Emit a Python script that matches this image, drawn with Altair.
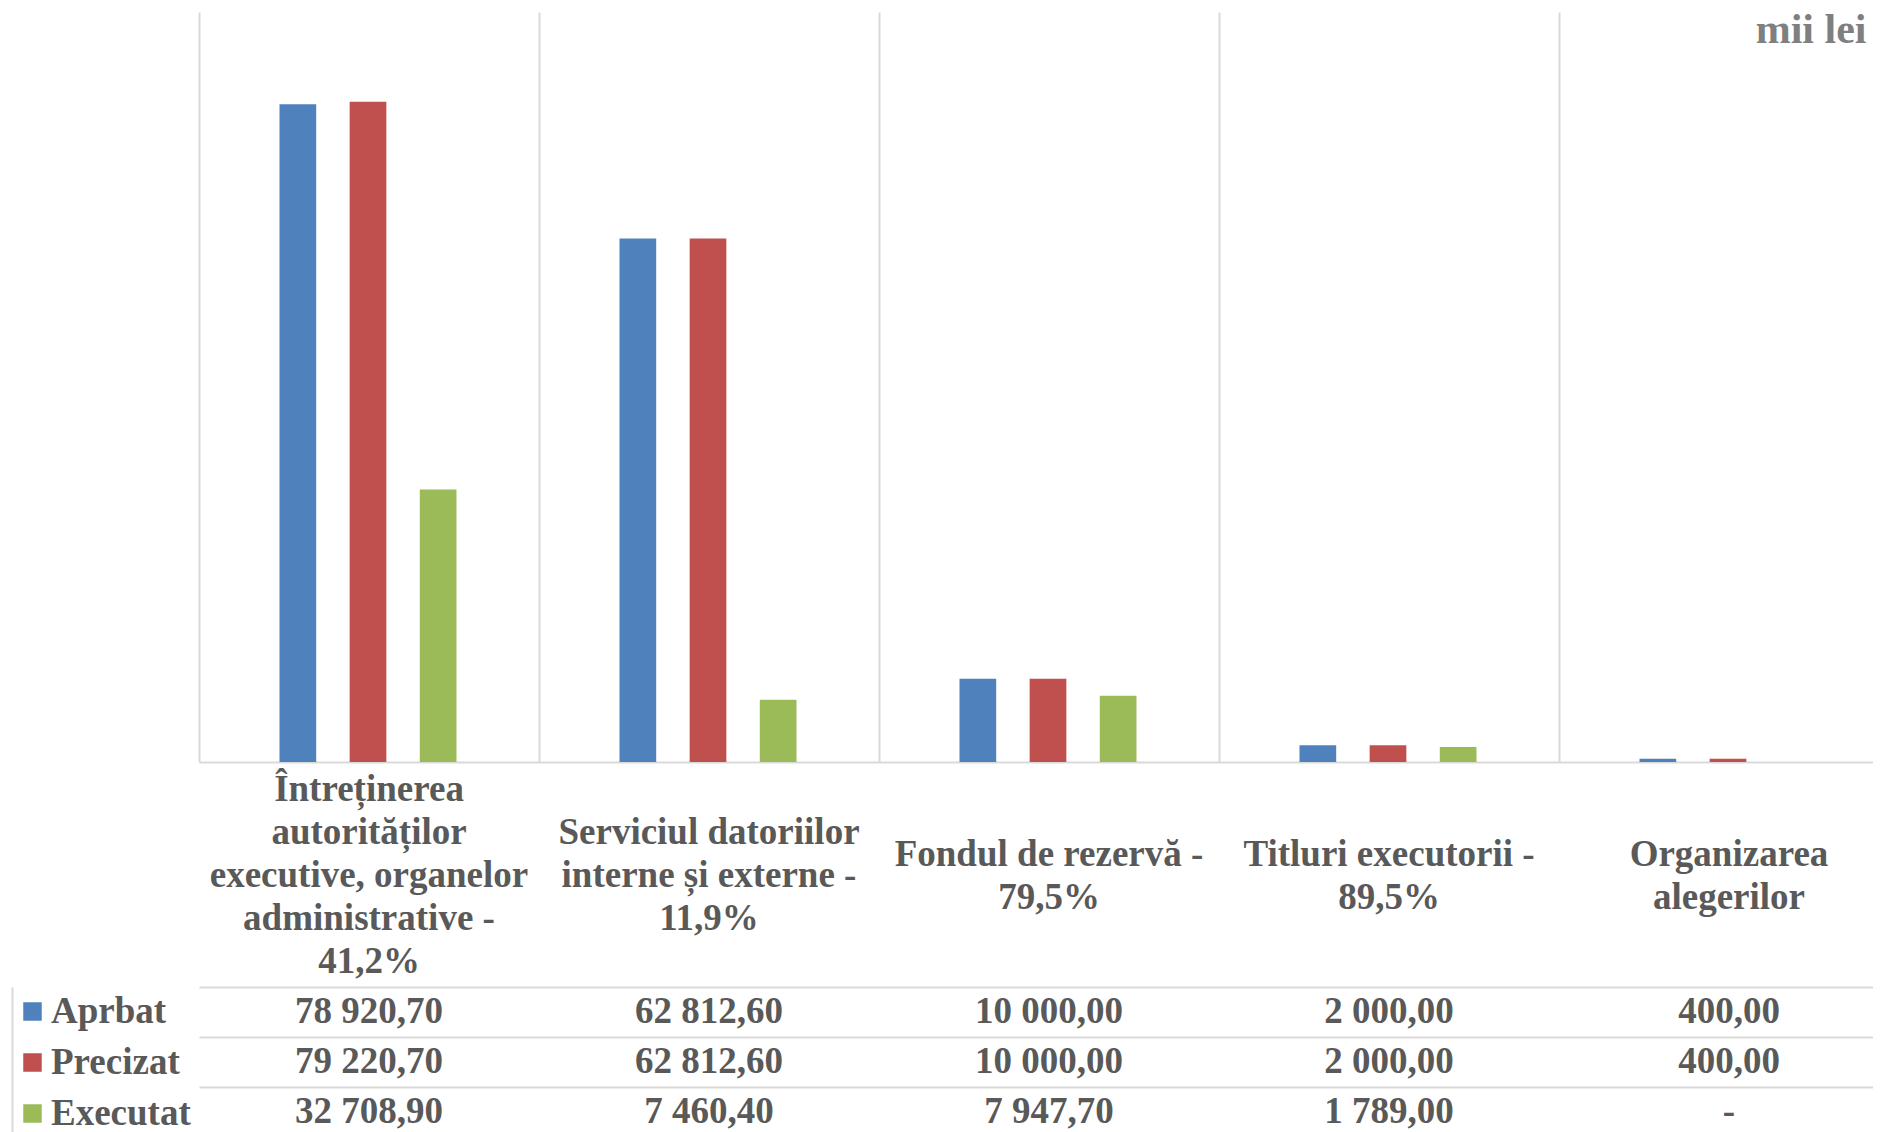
import altair as alt
import pandas as pd

# ---------------- data ----------------
categories = [
    "Întreținerea autorităților",
    "Serviciul datoriilor",
    "Fondul de rezervă",
    "Titluri executorii",
    "Organizarea alegerilor",
]
category_labels = [
    "Întreținerea\nautorităților\nexecutive, organelor\nadministrative -\n41,2%",
    "Serviciul datoriilor\ninterne și externe -\n11,9%",
    "Fondul de rezervă -\n79,5%",
    "Titluri executorii -\n89,5%",
    "Organizarea\nalegerilor",
]
series = ["Aprbat", "Precizat", "Executat"]
aprobat = [78920.70, 62812.60, 10000.00, 2000.00, 400.00]
precizat = [79220.70, 62812.60, 10000.00, 2000.00, 400.00]
executat = [32708.90, 7460.40, 7947.70, 1789.00, None]
colors = ["#4F81BD", "#C0504D", "#9BBB59"]
unit_label = "mii lei"


def fmt(v):
    if v is None:
        return "-"
    return f"{v:,.2f}".replace(",", " ").replace(".", ",")


rows = []
for s, vals in zip(series, [aprobat, precizat, executat]):
    for c, v in zip(categories, vals):
        rows.append({"cat": c, "series": s, "value": v, "label": fmt(v)})
df = pd.DataFrame(rows)

# one row per line of each category label, k = line position relative to the block centre
hdr_rows = []
for c, lab in zip(categories, category_labels):
    lines = lab.split("\n")
    n = len(lines)
    for i, line in enumerate(lines):
        hdr_rows.append({"cat": c, "text": line, "k": i - (n - 1) / 2})
hdr_df = pd.DataFrame(hdr_rows)

# ---------------- layout / style ----------------
FONT = "Liberation Serif"
TXT = "#595959"
GRID = "#D9D9D9"
PLOT_W, PLOT_H = 1861, 1124
COL_START, COL_W = 187, 340
X_RANGE = [COL_START, COL_START + COL_W * len(categories)]
BASE = 750
HDR_RANGE = [BASE + 1, 977]
LINE_H = 43
HALF_LINES = (HDR_RANGE[1] - HDR_RANGE[0]) / LINE_H / 2
ROW_RANGE = [975, 1125]

x_scale = alt.Scale(type="band", domain=categories, range=X_RANGE, paddingInner=0, paddingOuter=0)

grid_axis = alt.Axis(
    orient="top", labels=False, ticks=False, domain=False,
    grid=True, gridColor=GRID, gridWidth=2, bandPosition=0,
    title=unit_label, titleFont=FONT, titleFontSize=42, titleFontWeight="bold",
    titleColor="#7F7F7F", titleAlign="right", titleBaseline="alphabetic",
    titleX=1854, titleY=30, titleAngle=0,
)
base_axis = alt.Axis(
    orient="bottom", offset=BASE - PLOT_H, title=None, labels=False, ticks=False,
    domain=True, domainColor=GRID, domainWidth=2, grid=False,
)

bars = alt.Chart(df).mark_bar().encode(
    x=alt.X("cat:N", scale=x_scale, axis=grid_axis),
    xOffset=alt.XOffset("series:N", scale=alt.Scale(domain=series, range=[80.5, 257.5], paddingInner=0.4768, paddingOuter=0)),
    y=alt.Y("value:Q", scale=alt.Scale(domain=[0, 90000], range=[BASE, 0], nice=False), axis=None),
    color=alt.Color(
        "series:N",
        scale=alt.Scale(domain=series, range=colors),
        legend=alt.Legend(
            orient="none", legendX=2, legendY=981, title=None, direction="vertical",
            symbolType="square", symbolSize=342, symbolStrokeWidth=0, symbolOpacity=1,
            labelFont=FONT, labelFontSize=37, labelFontWeight="bold", labelColor=TXT,
            labelOffset=0, rowPadding=13, padding=0, labelLimit=400,
        ),
    ),
)

hdr = alt.Chart(hdr_df).mark_text(
    font=FONT, fontSize=37, fontWeight="bold", color=TXT, align="center", baseline="middle",
).encode(
    x=alt.X("cat:N", scale=x_scale, axis=base_axis),
    y=alt.Y("k:Q", scale=alt.Scale(domain=[-HALF_LINES, HALF_LINES], range=HDR_RANGE, nice=False, zero=False), axis=None),
    text="text:N",
)

table = alt.Chart(df).mark_text(
    font=FONT, fontSize=37, fontWeight="bold", color=TXT, align="center", baseline="middle",
).encode(
    x=alt.X("cat:N", scale=x_scale, axis=None),
    y=alt.Y(
        "series:N",
        scale=alt.Scale(type="band", domain=series, range=ROW_RANGE, paddingInner=0, paddingOuter=0),
        axis=alt.Axis(
            orient="left", title=None, labels=False, ticks=False,
            domain=True, domainColor=GRID, domainWidth=2,
            grid=True, gridColor=GRID, gridWidth=2, bandPosition=0,
        ),
    ),
    text="label:N",
)

chart = (
    alt.layer(bars, hdr, table)
    .resolve_scale(y="independent")
    .resolve_axis(x="independent")
    .properties(
        width=PLOT_W, height=PLOT_H,
        autosize=alt.AutoSizeParams(type="none"),
        padding={"left": 4, "top": 4, "right": 0, "bottom": 0},
    )
    .configure_view(strokeWidth=0)
)

chart.save("out.html", embed_options={"renderer": "svg", "actions": False})
